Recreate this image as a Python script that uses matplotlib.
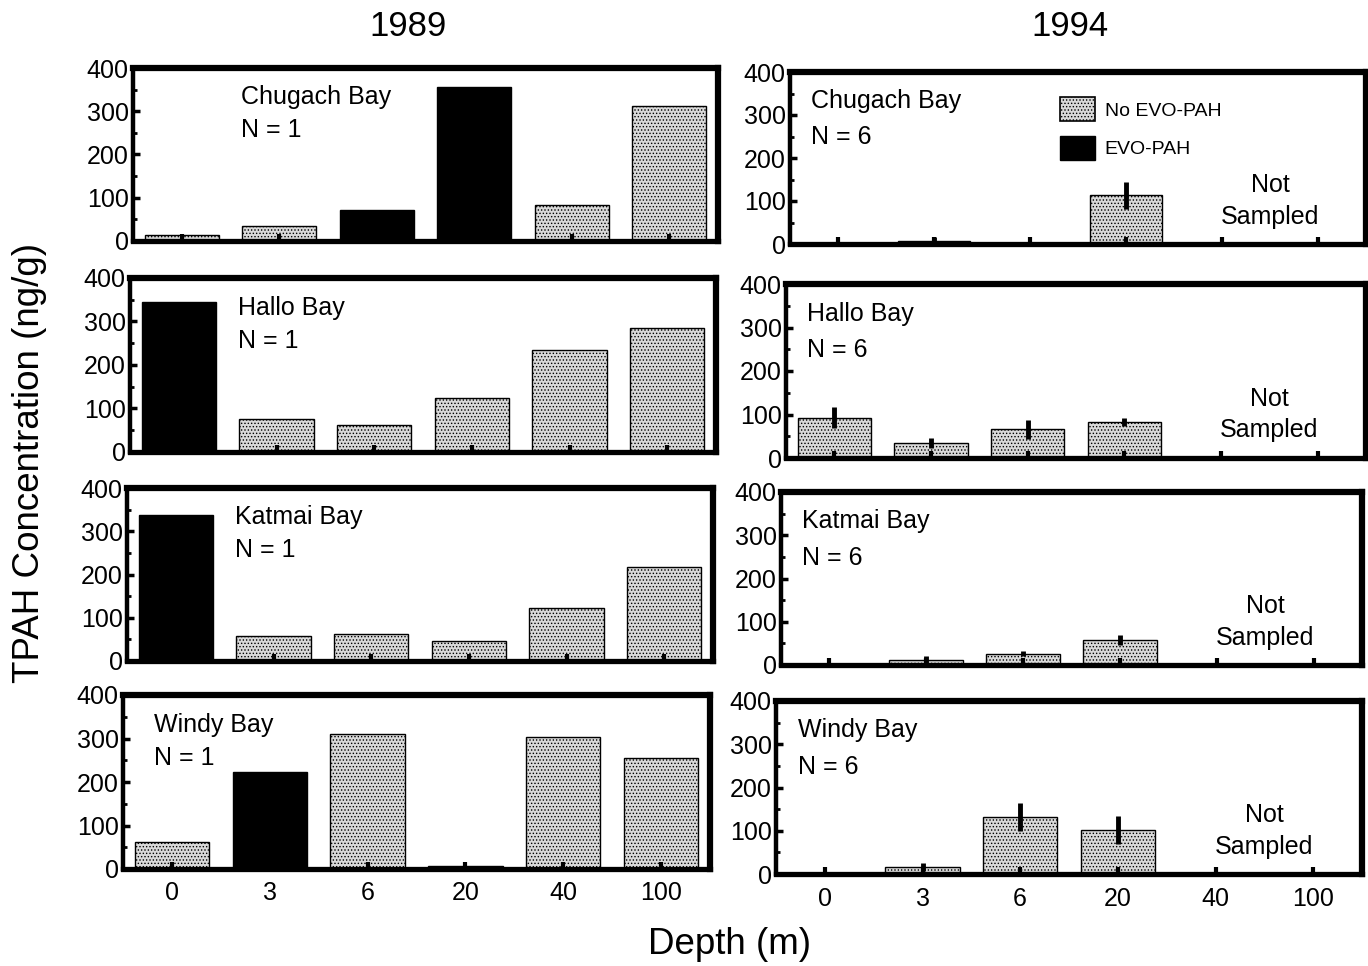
import matplotlib
matplotlib.use("Agg")
import matplotlib.pyplot as plt
import numpy as np
from matplotlib.patches import Patch

plt.rcParams["font.family"] = ["Liberation Sans", "DejaVu Sans"]
plt.rcParams["hatch.color"] = "#666666"
plt.rcParams["hatch.linewidth"] = 0.6

DEPTHS = ["0", "3", "6", "20", "40", "100"]
BAYS = ["Chugach Bay", "Hallo Bay", "Katmai Bay", "Windy Bay"]

# 1989, single samples (N = 1)
TPAH_1989_CHUGACH = [15, 34, 72, 355, 84, 313]
TPAH_1989_HALLO = [345, 77, 61, 125, 234, 284]
TPAH_1989_KATMAI = [338, 57, 62, 46, 122, 218]
TPAH_1989_WINDY = [62, 223, 310, 6, 303, 255]

# True where the sample carried the EVO-PAH signature
EVO_1989_CHUGACH = [False, False, True, True, False, False]
EVO_1989_HALLO = [True, False, False, False, False, False]
EVO_1989_KATMAI = [True, False, False, False, False, False]
EVO_1989_WINDY = [False, True, False, False, False, False]

# 1994, means of N = 6 (40 m and 100 m not sampled)
TPAH_1994_CHUGACH = [0, 8, 0, 113]
TPAH_1994_HALLO = [93, 35, 66, 83]
TPAH_1994_KATMAI = [0, 12, 26, 58]
TPAH_1994_WINDY = [0, 16, 132, 102]

ERR_1994_CHUGACH = [0, 9, 0, 32]
ERR_1994_HALLO = [24, 11, 22, 10]
ERR_1994_KATMAI = [0, 8, 6, 11]
ERR_1994_WINDY = [0, 10, 33, 33]

values_1989 = [TPAH_1989_CHUGACH, TPAH_1989_HALLO, TPAH_1989_KATMAI, TPAH_1989_WINDY]
evo_1989 = [EVO_1989_CHUGACH, EVO_1989_HALLO, EVO_1989_KATMAI, EVO_1989_WINDY]
values_1994 = [TPAH_1994_CHUGACH, TPAH_1994_HALLO, TPAH_1994_KATMAI, TPAH_1994_WINDY]
errors_1994 = [ERR_1994_CHUGACH, ERR_1994_HALLO, ERR_1994_KATMAI, ERR_1994_WINDY]

STIPPLE = "#d9d9d9"
W, H = 1368, 966

# axes boxes in pixels (left, top, right, bottom); the scanned figure is slightly skewed
LEFT_BOXES = [(133, 68, 718, 241), (130, 278, 716, 452), (127, 488, 713, 661), (123, 695, 710, 869)]
RIGHT_BOXES = [(790, 72, 1366, 244), (786, 284, 1366, 458), (781, 492, 1362, 665), (776, 701, 1362, 874)]


def make_axes(fig, box):
    l, t, r, b = box
    return fig.add_axes([l / W, 1 - b / H, (r - l) / W, (b - t) / H])


def style_axis(axis, show_xlabels):
    x = np.arange(len(DEPTHS))
    axis.set_xlim(-0.5, len(DEPTHS) - 0.5)
    axis.set_ylim(0, 400)
    axis.set_yticks([0, 100, 200, 300, 400])
    axis.set_yticks(np.arange(50, 400, 100), minor=True)
    axis.set_xticks(x)
    axis.set_xticklabels(DEPTHS if show_xlabels else [])
    axis.tick_params(axis="both", which="both", direction="in", labelsize=18, pad=3)
    axis.tick_params(axis="y", which="major", length=5, width=2.5)
    axis.tick_params(axis="y", which="minor", length=3, width=2)
    axis.tick_params(axis="x", length=5, width=3, pad=9)
    for side, lw in [("top", 4.5), ("right", 4.5), ("left", 3.2), ("bottom", 3.8)]:
        axis.spines[side].set_linewidth(lw)


figure = plt.figure(figsize=(W / 100, H / 100), dpi=100)

for row in range(4):
    # 1989 column
    axis = make_axes(figure, LEFT_BOXES[row])
    x = np.arange(len(DEPTHS))
    colors = ["black" if flag else STIPPLE for flag in evo_1989[row]]
    hatches = [None if flag else "....." for flag in evo_1989[row]]
    for xi, value, color, hatch in zip(x, values_1989[row], colors, hatches):
        axis.bar(xi, value, width=0.76, color=color, edgecolor="black", linewidth=1.0, hatch=hatch)
    style_axis(axis, row == 3)
    label_x = 0.053 if row == 3 else 0.185
    axis.text(label_x, 0.83, BAYS[row], transform=axis.transAxes, fontsize=18, va="center")
    axis.text(label_x, 0.64, "N = 1", transform=axis.transAxes, fontsize=18, va="center")

    # 1994 column
    axis = make_axes(figure, RIGHT_BOXES[row])
    sampled = np.arange(len(values_1994[row]))
    axis.bar(sampled, values_1994[row], width=0.76, color=STIPPLE, edgecolor="black",
             linewidth=1.0, hatch=".....")
    err_x = [xi for xi, e in zip(sampled, errors_1994[row]) if e > 0]
    err_y = [v for v, e in zip(values_1994[row], errors_1994[row]) if e > 0]
    err_e = [e for e in errors_1994[row] if e > 0]
    axis.errorbar(err_x, err_y, yerr=err_e, fmt="none", ecolor="black", elinewidth=3.5, capsize=0)
    style_axis(axis, row == 3)
    axis.text(0.037, 0.83, BAYS[row], transform=axis.transAxes, fontsize=18, va="center")
    axis.text(0.037, 0.62, "N = 6", transform=axis.transAxes, fontsize=18, va="center")
    axis.text(4.5, 100, "Not\nSampled", ha="center", va="center", fontsize=18, linespacing=1.4)

    if row == 0:
        handles = [
            Patch(facecolor=STIPPLE, edgecolor="black", hatch=".....", linewidth=1.2, label="No EVO-PAH"),
            Patch(facecolor="black", edgecolor="black", label="EVO-PAH"),
        ]
        axis.legend(handles=handles, loc="upper left", bbox_to_anchor=(0.455, 0.9), frameon=False,
                    fontsize=14, handlelength=1.8, handleheight=1.55, labelspacing=0.75,
                    handletextpad=0.5, borderaxespad=0)

figure.text(408 / W, 1 - 27 / H, "1989", ha="center", va="center", fontsize=25)
figure.text(1070 / W, 1 - 27 / H, "1994", ha="center", va="center", fontsize=25)
figure.text(30 / W, 1 - 463 / H, "TPAH Concentration (ng/g)", rotation=90, ha="center",
            va="center", fontsize=26.5)
figure.text(730 / W, 1 - 945 / H, "Depth (m)", ha="center", va="center", fontsize=26.5)

figure.savefig("out.png", dpi=100)
